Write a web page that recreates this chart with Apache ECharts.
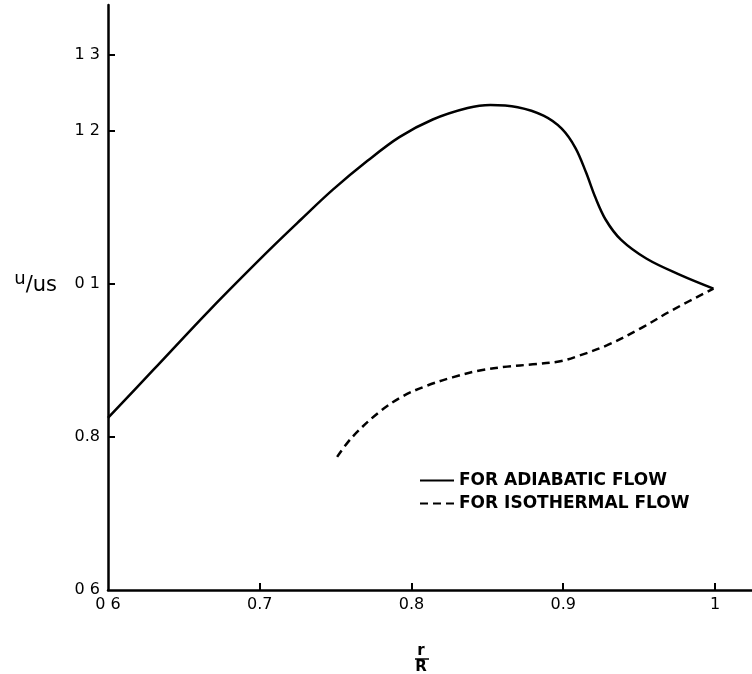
<!DOCTYPE html>
<html>
<head>
<meta charset="utf-8">
<script src="https://cdn.jsdelivr.net/npm/echarts@6/dist/echarts.min.js"></script>
<style>
  html, body { margin: 0; padding: 0; background: #fff; }
  #main { width: 752px; height: 674px; }
</style>
</head>
<body>
<div id="main"></div>
<script>
// values: [r/R, u/us]
var adiabatic = [
  [0.600, 0.825], [0.630, 0.888], [0.667, 0.966], [0.705, 1.042], [0.727, 1.084],
  [0.748, 1.123], [0.771, 1.161], [0.792, 1.192], [0.814, 1.215], [0.837, 1.230],
  [0.852, 1.234], [0.870, 1.231], [0.887, 1.220], [0.899, 1.203], [0.908, 1.178],
  [0.915, 1.146], [0.921, 1.114], [0.928, 1.084], [0.938, 1.058], [0.955, 1.033],
  [0.977, 1.012], [0.999, 0.994]
];
var isothermal = [
  [0.751, 0.774], [0.761, 0.800], [0.779, 0.833], [0.794, 0.853], [0.810, 0.867],
  [0.827, 0.878], [0.845, 0.887], [0.863, 0.892], [0.880, 0.895], [0.898, 0.899],
  [0.910, 0.906], [0.929, 0.920], [0.951, 0.942], [0.972, 0.966], [0.999, 0.994]
];
var seriesNames = ['FOR ADIABATIC FLOW', 'FOR ISOTHERMAL FLOW'];

var xTickValues = [0.6, 0.7, 0.8, 0.9, 1.0];
var xTickLabels = ['0 6', '0.7', '0.8', '0.9', '1'];
var yTickValues = [0.6, 0.8, 1.0, 1.2, 1.3];
var yTickLabels = ['0 6', '0.8', '0 1', '1 2', '1 3'];

function pick(values, labels) {
  return function(v) {
    for (var i = 0; i < values.length; i++) {
      if (Math.abs(values[i] - v) < 1e-6) return labels[i];
    }
    return '';
  };
}

var font = 'DejaVu Sans';
var chart = echarts.init(document.getElementById('main'));

chart.setOption({
  backgroundColor: '#fff',
  animation: false,
  grid: { left: 108, right: 0, top: 5, bottom: 84, outerBoundsMode: 'none' },
  legend: {
    orient: 'vertical',
    left: 414,
    top: 467,
    itemWidth: 34,
    itemHeight: 14,
    itemGap: 6,
    itemStyle: { opacity: 0 },
    textStyle: { fontFamily: font, fontWeight: 'bold', fontSize: 17, color: '#000' },
    data: seriesNames
  },
  xAxis: {
    type: 'value',
    min: 0.6,
    max: 1.0244,
    name: 'r\nR',
    nameLocation: 'middle',
    nameGap: 53,
    nameTextStyle: {
      fontFamily: font, fontWeight: 'bold', fontSize: 15, color: '#000',
      lineHeight: 16, padding: [0, 18, 0, 0]
    },
    splitLine: { show: false },
    axisLine: { lineStyle: { color: '#000', width: 2.5 } },
    axisTick: {
      inside: true, length: 7,
      customValues: xTickValues.slice(1),
      lineStyle: { color: '#000', width: 2 }
    },
    axisLabel: {
      customValues: xTickValues,
      formatter: pick(xTickValues, xTickLabels),
      margin: 7,
      fontFamily: font, fontSize: 16, color: '#000'
    }
  },
  yAxis: {
    type: 'value',
    min: 0.6,
    max: 1.3647,
    name: '{u|u}/us',
    nameLocation: 'middle',
    nameRotate: 0,
    nameGap: 51,
    nameTextStyle: {
      fontFamily: font, fontSize: 21, color: '#000',
      padding: [0, 0, 24, 0],
      rich: { u: { fontFamily: font, fontSize: 18, color: '#000', padding: [0, 0, 12, 0] } }
    },
    splitLine: { show: false },
    axisLine: { lineStyle: { color: '#000', width: 2.5 } },
    axisTick: {
      inside: true, length: 7,
      customValues: yTickValues.slice(1),
      lineStyle: { color: '#000', width: 2 }
    },
    axisLabel: {
      customValues: yTickValues,
      formatter: pick(yTickValues, yTickLabels),
      margin: 8,
      fontFamily: font, fontSize: 16, color: '#000'
    }
  },
  graphic: [{
    type: 'line',
    shape: { x1: 415, y1: 659, x2: 429, y2: 659 },
    style: { stroke: '#000', lineWidth: 1.5 }
  }],
  series: [
    {
      name: seriesNames[0],
      type: 'line',
      data: adiabatic,
      smooth: 0.35,
      symbol: 'none',
      lineStyle: { color: '#000', width: 2.5 },
      itemStyle: { color: '#000' }
    },
    {
      name: seriesNames[1],
      type: 'line',
      data: isothermal,
      smooth: 0.35,
      symbol: 'none',
      lineStyle: { color: '#000', width: 2.5, type: [8, 5] },
      itemStyle: { color: '#000' }
    }
  ]
});
</script>
</body>
</html>
